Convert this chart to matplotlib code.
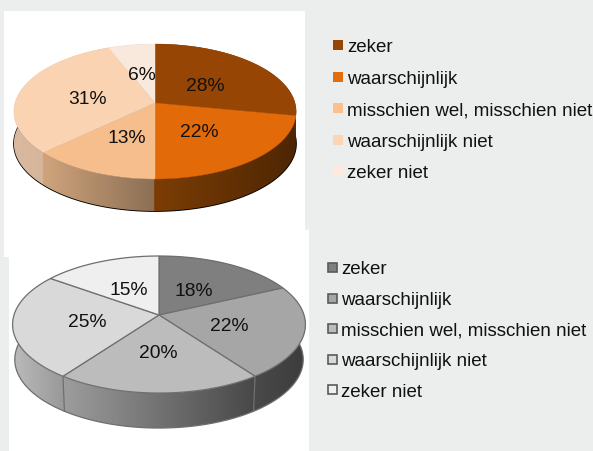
import numpy as np
import matplotlib
matplotlib.use("Agg")
import matplotlib.pyplot as plt
from matplotlib.patches import Polygon, Rectangle
from matplotlib.colors import to_rgb

categories = ["zeker", "waarschijnlijk", "misschien wel, misschien niet",
              "waarschijnlijk niet", "zeker niet"]
top_values = [28, 22, 13, 31, 6]
bottom_values = [18, 22, 20, 25, 15]

top_colors = ["#964504", "#e26a08", "#f6bd8d", "#fad3b2", "#f9e9dc"]
top_legend_colors = ["#964505", "#e46c0a", "#fcbf8f", "#fcd5b5", "#fde9dd"]
top_side = [("#4f2703", "#4f2703"), ("#7c3d05", "#4e2603"),
            ("#cfa47c", "#8b6e54"), ("#d9b99f", "#cfae92"), ("#d9b99f", "#d9b99f")]
bottom_colors = ["#7f7f7f", "#a6a6a6", "#bcbcbc", "#d9d9d9", "#efefef"]
bottom_side = [("#3f3f3f", "#3f3f3f"), ("#4a4a4a", "#3c3c3c"),
               ("#9d9d9d", "#484848"), ("#bbbbbb", "#989898"), ("#bbbbbb", "#bbbbbb")]

BG = "#eceeee"
plt.rcParams["font.family"] = ["Liberation Sans", "DejaVu Sans"]
TXT = "#111111"
FS_LEG = 13.5
FS_PCT = 13.9


def project(theta, cx, cy, a, b, k):
    u, v = np.sin(theta), -np.cos(theta)
    d = 1 - k * v
    return cx + b * u / d, cy + a * v / d


def draw_pie(ax, values, faces, sides, cx, cy, a, b, k, depth, shrink, edge, lw, shadow):
    fr = np.cumsum([0] + list(values)) / sum(values)
    t = np.linspace(0, 2 * np.pi, 721)
    x, y = project(t, cx, cy, a, b, k)
    xb = cx + (x - cx) * shrink
    if shadow:
        ax.add_patch(Polygon(np.c_[xb, y + depth + 0.2], closed=True, fc="black",
                             ec="black", lw=1.0, zorder=2))
    for i in range(len(values)):
        # each wall runs a touch past its end so no seam shows between slices
        th = np.linspace(fr[i], fr[i + 1] + 0.0008, max(int(values[i] * 8), 4)) * 2 * np.pi
        px, py = project(th, cx, cy, a, b, k)
        pxb = cx + (px - cx) * shrink
        pts = np.r_[np.c_[px, py], np.c_[pxb, py + depth][::-1]]
        c0, c1 = np.array(to_rgb(sides[i][0])), np.array(to_rgb(sides[i][1]))
        lo, hi = pts[:, 0].min(), pts[:, 0].max()
        s = np.linspace(0, 1, 128)[:, None]
        grad = (c0 + (c1 - c0) * s)[None, :, :]
        poly = Polygon(pts, closed=True, fc="none", ec="none", transform=ax.transData)
        ax.add_patch(poly)
        im = ax.imshow(grad, extent=(lo, hi, pts[:, 1].max(), pts[:, 1].min()),
                       aspect="auto", zorder=3 + 0.01 * (len(values) - i), interpolation="bilinear")
        im.set_clip_path(poly)
    ax.set_xlim(0, 593)
    ax.set_ylim(452, 0)
    if edge:
        ax.plot(xb, y + depth, color=edge, lw=lw, zorder=3.5)
        for f in fr[:-1]:
            sx, sy = project(f * 2 * np.pi, cx, cy, a, b, k)
            if -np.cos(f * 2 * np.pi) > 0:
                ax.plot([sx, cx + (sx - cx) * shrink], [sy, sy + depth],
                        color=edge, lw=lw, zorder=3.5)
    for i in range(len(values)):
        th = np.linspace(fr[i], fr[i + 1], max(int(values[i] * 4), 4)) * 2 * np.pi
        px, py = project(th, cx, cy, a, b, k)
        pts = np.r_[[[cx, cy]], np.c_[px, py]]
        ax.add_patch(Polygon(pts, closed=True, fc=faces[i],
                             ec=edge if edge else faces[i],
                             lw=lw if edge else 0.3, zorder=4))


def legend(ax, colors, sx, ys, base, tx, edge, sw):
    for c, yy, by, name in zip(colors, ys, base, categories):
        ax.add_patch(Rectangle((sx, yy - sw / 2), sw, sw, fc=c,
                               ec=edge if edge else c, lw=1.2 if edge else 0, zorder=5))
        ax.text(tx, by, name, fontsize=FS_LEG, color=TXT, va="baseline", ha="left", zorder=6)


fig = plt.figure(figsize=(5.93, 4.52), dpi=100, facecolor=BG)
ax = fig.add_axes([0, 0, 1, 1])
ax.set_xlim(0, 593)
ax.set_ylim(452, 0)
ax.axis("off")

ax.add_patch(Rectangle((4, 12), 301, 219, fc="white", ec="none", zorder=1))
ax.add_patch(Rectangle((4, 231), 305, 27, fc="white", ec="none", zorder=1))
ax.add_patch(Rectangle((9, 258), 300, 194, fc="white", ec="none", zorder=1))

draw_pie(ax, top_values, top_colors, top_side, 155, 104, 66.4, 140, 0.126, 32, 1.0, None, 0, True)
draw_pie(ax, bottom_values, bottom_colors, bottom_side, 159, 316, 67.2, 145, 0.139, 35, 0.985, "#6f6f6f", 0.9, False)

top_label_pos = [(205, 91), (199, 137), (127, 143), (88, 104), (142, 80)]
bottom_label_pos = [(194, 296), (229, 331), (158, 358), (87, 327), (129, 295)]
for vals, poss in ((top_values, top_label_pos), (bottom_values, bottom_label_pos)):
    for v, (px, py) in zip(vals, poss):
        ax.text(px, py, f"{v}%", fontsize=FS_PCT, color=TXT, ha="center", va="baseline", zorder=7)

legend(ax, top_legend_colors, 333, [46, 78, 109, 141, 172], [52, 83.5, 115, 146.7, 178], 347, None, 10)
legend(ax, bottom_colors, 327.5, [268, 299, 329, 360, 390], [274, 305, 336, 366, 397], 341, "#5a5a5a", 9)

fig.savefig("out.png", dpi=100, facecolor=BG)
